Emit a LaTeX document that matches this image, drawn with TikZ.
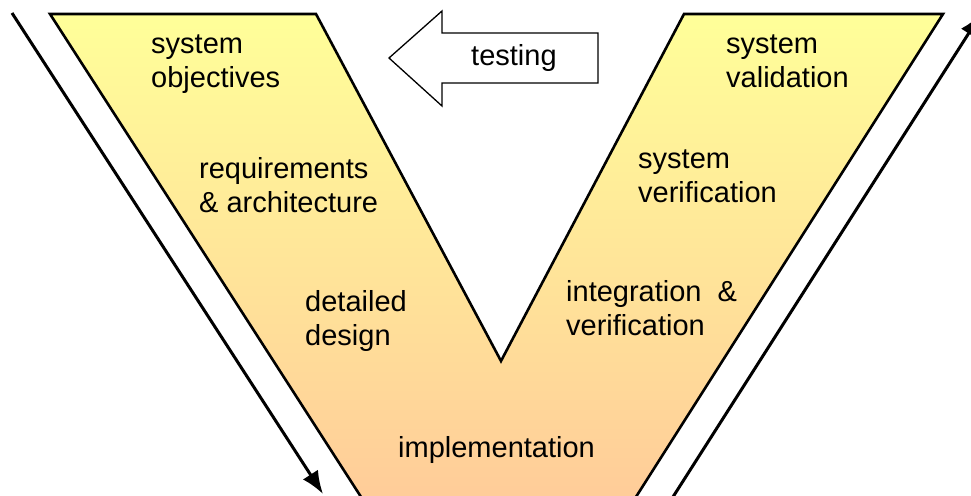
\documentclass[tikz,border=0pt]{standalone}
\usepackage{fontspec}
\setmainfont{Liberation Sans}
\usetikzlibrary{arrows.meta}
\definecolor{vtop}{RGB}{255,255,153}
\definecolor{vbot}{RGB}{255,204,153}
\tikzset{
  lbl/.style={anchor=base west, inner sep=0pt, align=left, font=\fontsize{29}{33.5}\selectfont},
  vshape/.style={draw=black, line width=2.6pt, line join=miter, top color=vtop, bottom color=vbot},
  flow/.style={draw=black, line width=3pt, -{Latex[length=23pt,width=18pt]}},
  testarrow/.style={draw=black, line width=1.3pt, fill=white}
}
\begin{document}
\begin{tikzpicture}[x=1pt,y=-1pt]
\useasboundingbox (0,0) rectangle (971,495);
\clip (0,0) rectangle (971,495);
% V shape
\path[vshape] (50,14) -- (316,14) -- (501,361) -- (684,14) -- (943,14) -- (634,500) -- (363,500) -- cycle;
% flow arrows
\coordinate (ls) at (12,13);
\coordinate (le) at (323,494);
\coordinate (rs) at (671,500);
\coordinate (re) at (981,14);
\draw[flow] (ls) -- (le);
\draw[flow] (rs) -- (re);
% testing arrow
\path[testarrow] (389,58) -- (442,11) -- (442,33) -- (598,33) -- (598,83) -- (442,83) -- (442,106) -- cycle;
\node[lbl] (testing) at (471,66) {testing};
% labels
\node[lbl] (obj) at (151,87) {system\\objectives};
\node[lbl] (req) at (199,212) {requirements\\\& architecture};
\node[lbl] (des) at (305,345) {detailed\\design};
\node[lbl] (imp) at (398,457) {implementation};
\node[lbl] (int) at (566,335) {integration\ \ \&\\verification};
\node[lbl] (ver) at (638,202) {system\\verification};
\node[lbl] (val) at (726,87) {system\\validation};
\end{tikzpicture}
\end{document}
